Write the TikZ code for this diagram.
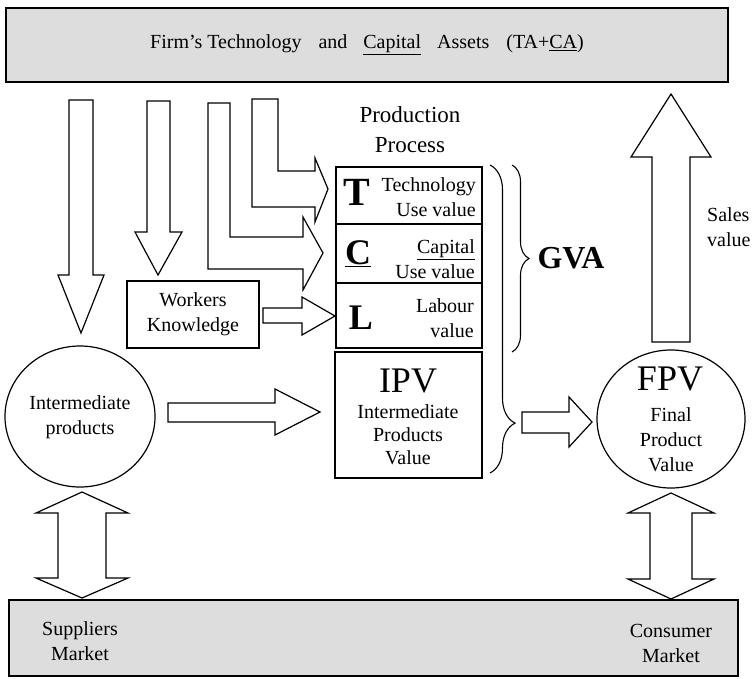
\documentclass[tikz,border=0pt]{standalone}
\usepackage{fontspec}
\setmainfont{Liberation Serif}
\usetikzlibrary{shapes.geometric,decorations.pathreplacing}
\definecolor{panel}{RGB}{221,221,221}
\begin{document}
\begin{tikzpicture}[x=1pt,y=-1pt,
  panelbox/.style={draw, line width=1.8pt, fill=panel, inner sep=0pt},
  blk/.style={draw, fill=white, line width=1.2pt, line join=miter},
  txt/.style={font=\fontsize{20}{25}\selectfont, align=center, inner sep=0pt},
  cell/.style={draw, line width=1.2pt, minimum width=146pt, inner sep=0pt},
  bigletter/.style={font=\fontsize{36}{36}\bfseries\selectfont, inner sep=0pt},
  bigabbr/.style={font=\fontsize{36}{36}\selectfont, inner sep=0pt},
  bracket/.style={line width=1.1pt, decorate}]
\useasboundingbox (0,0) rectangle (752,678);

% assets panel and markets panel
\node[panelbox, minimum width=722pt, minimum height=74pt, font=\fontsize{20}{25}\selectfont] (assets) at (367,45)
  {Firm’s Technology\hspace{17pt}and\hspace{16pt}\underline{Capital}\hspace{16pt}Assets\hspace{17pt}(TA+\underline{CA})};
\node[panelbox, minimum width=729pt, minimum height=76pt] (markets) at (373.5,638) {};
\node[txt] (supp) at (80,641) {Suppliers\\Market};
\node[txt] (cons) at (671,643) {Consumer\\Market};

% production process cells
\node[txt, font=\fontsize{23}{30}\selectfont] (pp) at (410,130) {Production\\Process};
\node[cell, minimum height=57pt] (trow) at (409,195.5) {};
\node[cell, minimum height=59pt] (crow) at (409,253.5) {};
\node[cell, minimum height=65pt] (lrow) at (409,315.5) {};
\node[cell, minimum width=147pt, minimum height=126pt] (ipv) at (408.5,415) {};

\node[bigletter, font=\fontsize{40}{40}\bfseries\selectfont] (tl) at (357,192) {T};
\node[txt, anchor=east, align=right] (tt) at (476,197.5) {Technology\\Use value};
\node[bigletter] (cl) at (358,254) {\underline{C}};
\node[txt, anchor=east, align=right] (ct) at (475,259.5) {\underline{Capital}\\Use value};
\node[bigletter] (ll) at (361,318) {L};
\node[txt, anchor=east, align=right] (lt) at (474,318) {Labour\\value};
\node[bigabbr] (ipvl) at (408,381) {IPV};
\node[txt, font=\fontsize{20}{23}\selectfont] (ipvt) at (408,435) {Intermediate\\Products\\Value};

% workers and intermediate products
\node[draw, line width=1.2pt, minimum width=132pt, minimum height=67pt, txt] (wk) at (193,314.5) {Workers\\Knowledge};
\node[ellipse, draw, line width=1.2pt, minimum width=150pt, minimum height=141pt, inner sep=0pt] (ip) at (80,416.5) {};
\node[txt] (ipt) at (80,417.5) {Intermediate\\products};

% final product value
\node[ellipse, draw, line width=1.2pt, minimum width=148pt, minimum height=138pt, inner sep=0pt] (fpv) at (671,419) {};
\node[bigabbr] (fpvl) at (670,379) {FPV};
\node[txt] (fpvt) at (671,440) {Final\\Product\\Value};

% value added
\node[font=\fontsize{32}{32}\bfseries\selectfont, inner sep=0pt] (gva) at (571,258) {GVA};
\node[txt, anchor=west, align=left] (sales) at (707,227) {Sales\\value};

% braces
\draw[bracket, decoration={brace, amplitude=25pt, aspect=0.838}] (490,165) -- (490,473);
\draw[bracket, decoration={brace, amplitude=17pt, aspect=0.5}] (512,165) -- (512,352);

% block arrows from the assets panel
\draw[blk] (69,100) -- (93,100) -- (93,275) -- (104,275) -- (81,333) -- (58,275) -- (69,275) -- cycle;
\draw[blk] (147,101) -- (170,101) -- (170,232) -- (182,232) -- (158,275) -- (135,232) -- (147,232) -- cycle;
\draw[blk] (208,103) -- (230,103) -- (230,237) -- (303,237) -- (303,217) -- (323,253) -- (303,290) -- (303,269) -- (208,269) -- cycle;
\draw[blk] (252,99) -- (278,99) -- (278,171) -- (315,171) -- (315,158) -- (328,189) -- (315,222) -- (315,207) -- (252,207) -- cycle;

% workers knowledge to labour
\draw[blk] (263,308) -- (302,308) -- (302,297) -- (335,316) -- (302,335) -- (302,323) -- (263,323) -- cycle;
% intermediate products to IPV
\draw[blk] (168,403) -- (275,403) -- (275,389) -- (320,412) -- (275,435) -- (275,422) -- (168,422) -- cycle;
% production process to final product
\draw[blk] (522,412) -- (569,412) -- (569,397) -- (592,422) -- (569,447) -- (569,433) -- (522,433) -- cycle;
% sales value back to the assets panel
\draw[blk] (652,342) -- (652,157) -- (631,157) -- (671,94) -- (711,157) -- (690,157) -- (690,342) -- cycle;

% exchanges with the markets
\draw[blk] (82,492) -- (128,513) -- (106,513) -- (106,578) -- (128,578) -- (82,598) -- (36,578) -- (58,578) -- (58,513) -- (36,513) -- cycle;
\draw[blk] (671,493) -- (714,513) -- (692,513) -- (692,579) -- (714,579) -- (671,599) -- (628,579) -- (650,579) -- (650,513) -- (628,513) -- cycle;
\end{tikzpicture}
\end{document}
